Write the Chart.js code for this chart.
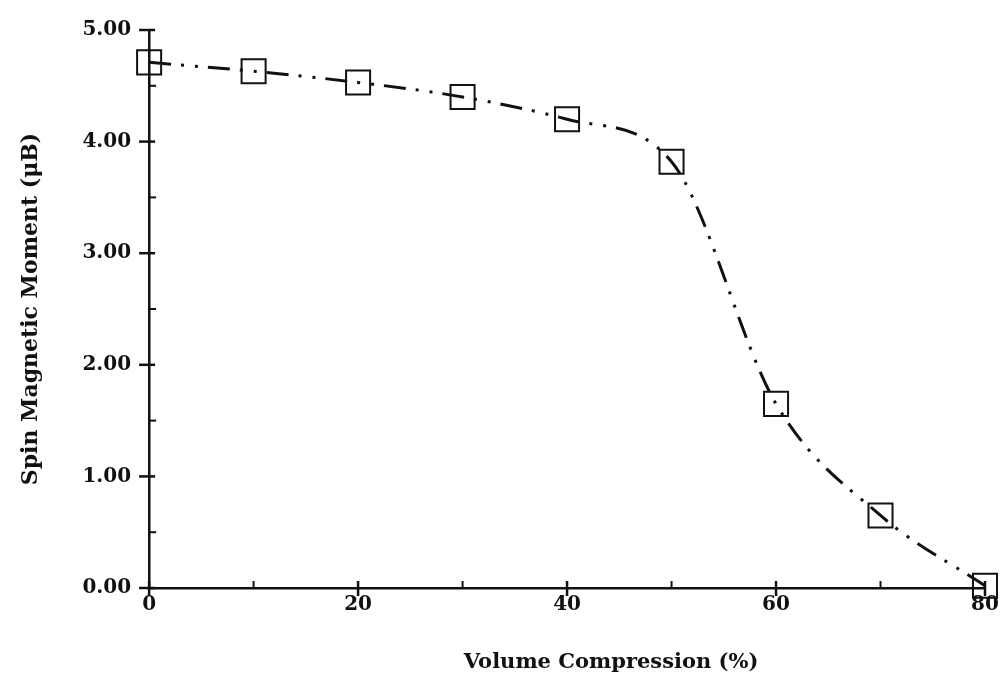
<!DOCTYPE html>
<html>
<head>
<meta charset="utf-8">
<script src="https://cdn.jsdelivr.net/npm/chart.js@4.4.1/dist/chart.umd.min.js"></script>
<style>
  html, body { margin: 0; padding: 0; background: #ffffff; }
  #wrap { width: 1004px; height: 696px; position: relative; }
</style>
</head>
<body>
<div id="wrap"><canvas id="c" width="1004" height="696"></canvas></div>
<script>
// ---- data ----
const compression = [0, 10, 20, 30, 40, 50, 60, 70, 80];          // Volume Compression (%)
const spinMoment  = [4.71, 4.63, 4.53, 4.40, 4.20, 3.82, 1.65, 0.65, 0.02]; // μB
const xTickLabels = ['0', '20', '40', '60', '80'];
const yTickLabels = ['0.00', '1.00', '2.00', '3.00', '4.00', '5.00'];
const xTitle = 'Volume Compression (%)';
const yTitle = 'Spin Magnetic Moment (\u03BCB)';

const INK = '#111111';
const tickFont = { family: 'DejaVu Serif', weight: 'bold', size: 20 };
const titleFont = { family: 'DejaVu Serif', weight: 'bold', size: 22 };

const tickMarks = {
  id: 'tickMarks',
  beforeDatasetsDraw(chart) {
    const ctx = chart.ctx;
    const xs = chart.scales.x, ys = chart.scales.y;
    const left = chart.chartArea.left, bottom = chart.chartArea.bottom;
    ctx.save();
    ctx.strokeStyle = INK;
    ys.ticks.forEach(t => {
      const p = ys.getPixelForValue(t.value);
      const major = Math.abs(t.value - Math.round(t.value)) < 1e-9;
      ctx.lineWidth = major ? 2.5 : 2;
      ctx.beginPath();
      ctx.moveTo(major ? left - 10 : left, p);
      ctx.lineTo(major ? left + 6 : left + 7, p);
      ctx.stroke();
    });
    xs.ticks.forEach(t => {
      const p = xs.getPixelForValue(t.value);
      const major = t.value % 20 === 0;
      ctx.lineWidth = major ? 2.5 : 2;
      ctx.beginPath();
      ctx.moveTo(p, major ? bottom + 8 : bottom);
      ctx.lineTo(p, bottom - 7);
      ctx.stroke();
    });
    ctx.restore();
  },
  afterDraw(chart) {
    // x-axis title, placed below the axis as in the reference
    const ctx = chart.ctx;
    const a = chart.chartArea;
    ctx.save();
    ctx.fillStyle = INK;
    ctx.font = 'bold 21px "DejaVu Serif"';
    ctx.textAlign = 'center';
    ctx.textBaseline = 'middle';
    ctx.fillText(xTitle, (a.left + a.right) / 2 + 44, a.bottom + 75);
    ctx.restore();
  }
};

new Chart(document.getElementById('c'), {
  type: 'line',
  data: {
    datasets: [{
      data: compression.map((x, i) => ({ x: x, y: spinMoment[i] })),
      borderColor: INK,
      borderWidth: 3,
      borderDash: [22, 10, 3, 11, 3, 10],
      borderCapStyle: 'butt',
      cubicInterpolationMode: 'monotone',
      pointStyle: 'rect',
      pointRadius: 17,
      pointBorderWidth: 2,
      pointBorderColor: INK,
      pointBackgroundColor: 'rgba(0,0,0,0)',
      fill: false,
      clip: false
    }]
  },
  options: {
    responsive: false,
    animation: false,
    layout: { padding: { top: 18, right: 7, bottom: 74, left: 18 } },
    plugins: { legend: { display: false }, tooltip: { enabled: false } },
    scales: {
      x: {
        type: 'linear', min: 0, max: 80,
        grid: { display: false, drawTicks: false },
        border: { display: true, color: INK, width: 2.5 },
        afterFit: s => { s.paddingRight = 0; },
        ticks: {
          stepSize: 10, autoSkip: false, color: INK, font: tickFont, padding: 5,
          maxRotation: 0,
          callback: v => (v % 20 === 0 ? xTickLabels[v / 20] : '')
        },
        title: { display: false, text: xTitle }
      },
      y: {
        type: 'linear', min: 0, max: 5,
        grid: { display: false, drawTicks: false },
        border: { display: true, color: INK, width: 2.5 },
        ticks: {
          stepSize: 0.5, autoSkip: false, color: INK, font: tickFont, padding: 18,
          callback: v => (Math.abs(v - Math.round(v)) < 1e-9 ? yTickLabels[Math.round(v)] : '')
        },
        title: { display: true, text: yTitle, color: INK, font: titleFont, padding: { top: 0, bottom: 20 } }
      }
    }
  },
  plugins: [tickMarks]
});
</script>
</body>
</html>
